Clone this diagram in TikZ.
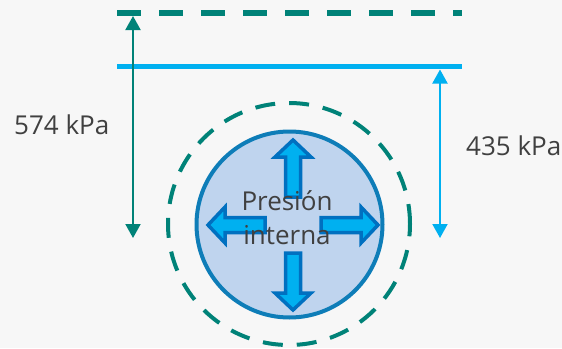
\documentclass[tikz,border=0pt]{standalone}
\usepackage{fontspec}
\setmainfont{Open Sans}
\usetikzlibrary{arrows.meta}
\definecolor{bg}{HTML}{F7F7F7}
\definecolor{teal}{RGB}{0,130,120}
\definecolor{sky}{HTML}{00B0F0}
\definecolor{pipeedge}{RGB}{14,125,184}
\definecolor{pipefill}{HTML}{BFD4EE}
\definecolor{arrowedge}{HTML}{0070C0}
\definecolor{txt}{HTML}{404040}
\tikzset{
  dim/.style={line width=2pt,{Triangle[width=15pt,length=14pt]}-{Triangle[width=15pt,length=14pt]}},
  lbl/.style={font=\fontsize{26}{34}\selectfont, text=txt, inner sep=0pt},
  blockarrow/.style={draw=arrowedge, fill=sky, line width=3.5pt, line join=miter},
}
\begin{document}
\begin{tikzpicture}[x=1pt,y=-1pt]
\fill[bg] (0,0) rectangle (562,348);
\useasboundingbox (0,0) rectangle (562,348);
% reference lines
\coordinate (dl) at (117,13);
\coordinate (dr) at (462,13);
\coordinate (sl) at (117,66.5);
\coordinate (sr) at (462,66.5);
\draw[teal, line width=6pt, dash pattern=on 24pt off 18pt] (dl) -- (dr);
\draw[sky, line width=5.5pt] (sl) -- (sr);
% outer dashed circle
\node[circle, draw=teal, line width=4pt, dash pattern=on 20pt off 14pt, minimum size=242pt, inner sep=0pt] (outer) at (289,224) {};
% pipe
\node[circle, draw=pipeedge, fill=pipefill, line width=4pt, minimum size=186pt, inner sep=0pt] (pipe) at (289.5,224.5) {};
% block arrows
\foreach \a in {0,90,180,270}{
  \draw[blockarrow, rotate around={\a:(293,225)}]
    (293,140) -- (311,157) -- (300.5,157) -- (300.5,197) -- (285.5,197) -- (285.5,157) -- (275,157) -- cycle;
}
\node[lbl, align=center] (txt) at (287,218) {Presión\\interna};
% dimension arrows
\coordinate (a1) at (133,16);
\coordinate (a2) at (133,238);
\coordinate (b1) at (440,69.5);
\coordinate (b2) at (440,238);
\draw[dim, teal] (a1) -- (a2);
\draw[dim, sky] (b1) -- (b2);
\node[lbl, anchor=base west] (l574) at (14,134) {574 kPa};
\node[lbl, anchor=base west] (l435) at (466,155) {435 kPa};
\end{tikzpicture}
\end{document}
